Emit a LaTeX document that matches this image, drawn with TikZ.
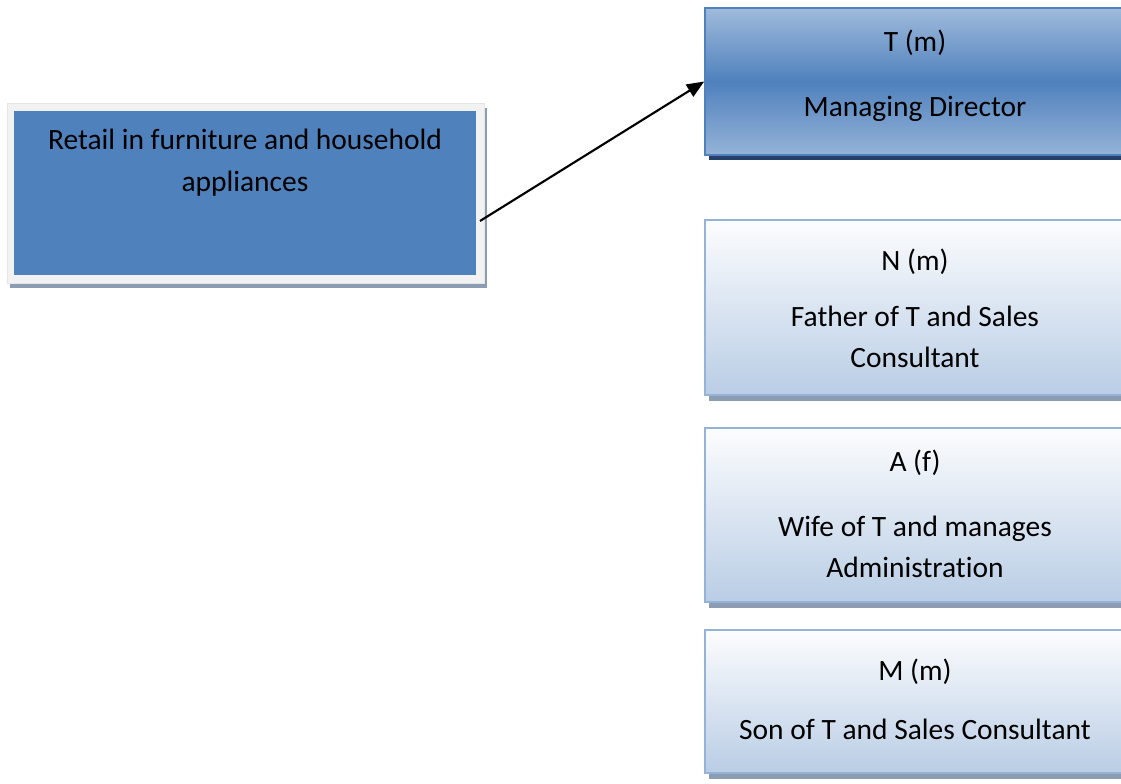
\documentclass[tikz,border=0pt]{standalone}
\usepackage{fontspec}
\setmainfont[Ligatures={NoCommon}]{Carlito}
\usetikzlibrary{arrows.meta}
\definecolor{accent}{RGB}{79,129,189}
\definecolor{accentlight}{RGB}{149,179,215}
\definecolor{accentpale}{RGB}{185,205,229}
\definecolor{navyshadow}{RGB}{36,64,106}
\definecolor{grayshadow}{RGB}{140,156,178}
\definecolor{framegray}{RGB}{242,242,242}
\tikzset{
  x=0.75pt, y=-0.75pt,
  lbl/.style={anchor=base, inner sep=0pt, font=\fontsize{22.1}{31}\selectfont, text=black},
  outerframe/.style={rectangle, inner sep=0pt, fill=framegray, draw=black!10, line width=0.5pt,
    preaction={fill=grayshadow, transform canvas={xshift=2.25pt, yshift=-3.75pt}}},
  bluecore/.style={rectangle, inner sep=0pt, fill=accent},
  headbox/.style={rectangle, inner sep=0pt, draw=accent, line width=1.2pt,
    top color=accentlight!90!white, bottom color=accentlight, middle color=accent,
    preaction={fill=navyshadow, transform canvas={xshift=3pt, yshift=-3.75pt}}},
  rolebox/.style={rectangle, inner sep=0pt, draw=accentlight, line width=1.2pt,
    top color=white!96!accentpale, bottom color=accentpale,
    preaction={fill=grayshadow, transform canvas={xshift=3pt, yshift=-4.5pt}}},
  link/.style={line width=1.6pt, -{Triangle[length=13pt, width=10.5pt]}}
}
\begin{document}
\begin{tikzpicture}
\useasboundingbox (0,0) rectangle (1121,783);
\clip (0,0) rectangle (1121,783);
\fill[white] (0,0) rectangle (1121,783);

% company box
\node[outerframe, minimum width=357.75pt, minimum height=135pt] (retail) at (245.5,193) {};
\node[bluecore, minimum width=346.5pt, minimum height=123pt] (retailcore) at (245,193) {};
\node[lbl] (retail1) at (245,149) {Retail in furniture and household};
\node[lbl] (retail2) at (245,191) {appliances};

% family members
\node[headbox, minimum width=315.75pt, minimum height=110.25pt] (tbox) at (915.5,81.5) {};
\node[lbl] (t1) at (915,51) {T (m)};
\node[lbl] (t2) at (915,116) {Managing Director};

\node[rolebox, minimum width=315.75pt, minimum height=131.25pt] (nbox) at (915.5,307.5) {};
\node[lbl] (n1) at (915,270) {N (m)};
\node[lbl] (n2) at (915,326) {Father of T and Sales};
\node[lbl] (n3) at (915,367) {Consultant};

\node[rolebox, minimum width=315.75pt, minimum height=130.5pt] (abox) at (915.5,515) {};
\node[lbl] (a1) at (915,471) {A (f)};
\node[lbl] (a2) at (915,536) {Wife of T and manages};
\node[lbl] (a3) at (915,577) {Administration};

\node[rolebox, minimum width=315.75pt, minimum height=107.25pt] (mbox) at (915.5,701.5) {};
\node[lbl] (m1) at (915,680) {M (m)};
\node[lbl] (m2) at (915,739) {Son of T and Sales Consultant};

% link from the business to its managing director
\coordinate (src) at (480,221);
\draw[link] (src) -- (tbox.west);
\end{tikzpicture}
\end{document}
